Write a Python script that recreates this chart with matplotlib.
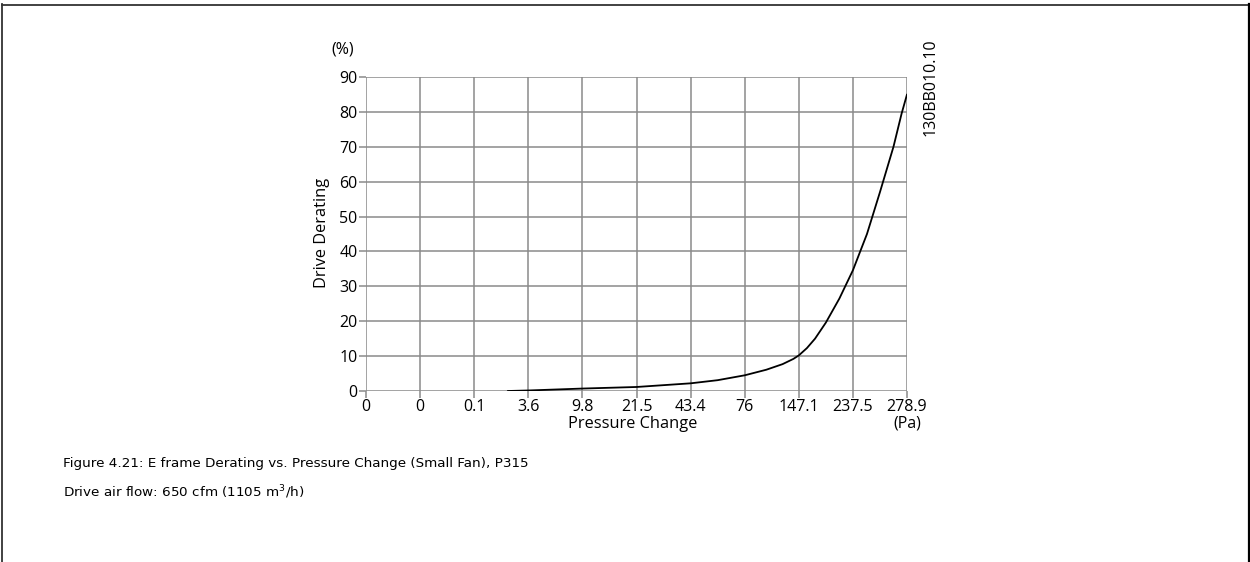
import numpy as np
import matplotlib
matplotlib.use("Agg")
import matplotlib.pyplot as plt
from matplotlib.lines import Line2D

# tick labels on the pressure axis (equally spaced grid columns)
pressure_labels = ["0", "0", "0.1", "3.6", "9.8", "21.5", "43.4", "76", "147.1", "237.5", "278.9"]
derating_ticks = [0, 10, 20, 30, 40, 50, 60, 70, 80, 90]

# curve, x in grid-column units
curve_x = [2.62, 3.0, 4.0, 5.0, 6.0, 6.5, 7.0, 7.4, 7.7, 7.9, 8.0, 8.15, 8.3, 8.5, 8.75, 9.0,
           9.26, 9.5, 9.75, 9.9, 10.0]
curve_y = [0.0, 0.15, 0.7, 1.15, 2.2, 3.1, 4.5, 6.1, 7.7, 9.2, 10.2, 12.3, 15.0, 19.6, 26.5, 34.6,
           45.0, 57.0, 70.0, 79.5, 85.0]

plt.rcParams['font.family'] = ['Open Sans', 'DejaVu Sans']

fig = plt.figure(figsize=(12.5, 5.62), dpi=100)
W, H = 1250, 562

# axes box in pixels: x 366..907, y 77..391
ax = fig.add_axes([366 / W, 1 - 391 / H, (907 - 366) / W, (391 - 77) / H])

ax.plot(curve_x, curve_y, color='black', linewidth=1.3, solid_capstyle='round')

ax.set_xlim(0, 10)
ax.set_ylim(0, 90)
ax.set_xticks(range(len(pressure_labels)))
ax.set_xticklabels(pressure_labels)
ax.set_yticks(derating_ticks)
ax.grid(True, color='#8a8a8a', linewidth=1.1)
ax.set_axisbelow(True)
for s in ax.spines.values():
    s.set_visible(False)
ax.tick_params(axis='both', length=5, width=1.1, color='#8a8a8a', labelsize=11.5, pad=1)

fig.text(633 / W, 1 - 424 / H, "Pressure Change", fontsize=11.8, ha='center', va='center')
fig.text(322 / W, 1 - 233 / H, "Drive Derating", fontsize=11.8, rotation=90, ha='center', va='center')
fig.text(343 / W, 1 - 49 / H, "(%)", fontsize=11.5, ha='center', va='center')
fig.text(907 / W, 1 - 424 / H, "(Pa)", fontsize=11.5, ha='center', va='center')
fig.text(931 / W, 1 - 87 / H, "130BB010.10", fontsize=11.5, rotation=90, ha='center', va='center')

fig.text(63 / W, 1 - 463 / H, "Figure 4.21: E frame Derating vs. Pressure Change (Small Fan), P315",
         fontsize=9.7, family=['DejaVu Sans'], ha='left', va='center')
fig.text(63 / W, 1 - 492 / H, r"Drive air flow: 650 cfm (1105 m$^3$/h)",
         fontsize=9.7, family=['DejaVu Sans'], ha='left', va='center')

# page frame
fig.add_artist(Line2D([2 / W, 2 / W], [0, 1 - 4 / H], transform=fig.transFigure, color='#333333', linewidth=1.3))
fig.add_artist(Line2D([2 / W, 1249 / W], [1 - 4.5 / H, 1 - 4.5 / H], transform=fig.transFigure, color='#333333', linewidth=1.3))
fig.add_artist(Line2D([1248.5 / W, 1248.5 / W], [0, 1 - 4 / H], transform=fig.transFigure, color='black', linewidth=1.6))

fig.savefig("out.png", dpi=100)
